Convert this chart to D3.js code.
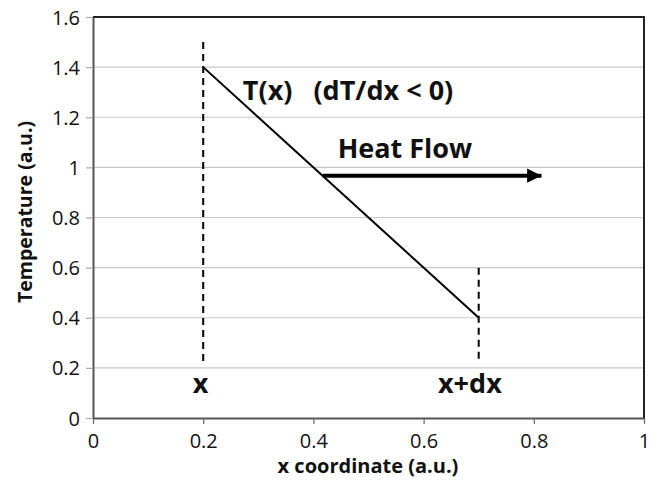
<!DOCTYPE html>
<html><head><meta charset="utf-8">
<script src="https://cdn.jsdelivr.net/npm/d3@7"></script>
<style>body{margin:0;background:#fff}svg{display:block}text{font-family:"Open Sans",sans-serif;white-space:pre}</style>
</head><body><svg id="c" width="657" height="480"></svg>
<script>
const xTicks = [0, 0.2, 0.4, 0.6, 0.8, 1];
const yTicks = [0, 0.2, 0.4, 0.6, 0.8, 1, 1.2, 1.4, 1.6];
const tempX = [0.2, 0.7];
const tempY = [1.4, 0.4];
const dashLeft = {x: 0.2, y0: 0.21, y1: 1.5};
const dashRight = {x: 0.7, y0: 0.22, y1: 0.6};
const heatFlow = {x0: 0.417, x1: 0.814, y: 0.967};
const labels = [
  {text: "T(x)   (dT/dx < 0)", x: 0.272, y: 1.269, anchor: "start"},
  {text: "Heat Flow", x: 0.444, y: 1.037, anchor: "start"},
  {text: "x", x: 0.195, y: 0.1, anchor: "middle"},
  {text: "x+dx", x: 0.684, y: 0.1, anchor: "middle"}
];
const xTitle = "x coordinate (a.u.)";
const yTitle = "Temperature (a.u.)";

const svg = d3.select("#c");
const L = 93, R = 644, T = 17, B = 418;
const x = d3.scaleLinear().domain([0, 1]).range([L, R]);
const y = d3.scaleLinear().domain([0, 1.6]).range([B, T]);

// gridlines
svg.append("g").selectAll("line").data(yTicks.filter(d => d > 0 && d < 1.6)).join("line")
  .attr("x1", L).attr("x2", R).attr("y1", d => y(d)).attr("y2", d => y(d))
  .attr("stroke", "#c8c8c8").attr("stroke-width", 1.2);

// axes
const xa = svg.append("g").attr("transform", `translate(0,${B})`)
  .call(d3.axisBottom(x).tickValues(xTicks).tickFormat(d3.format("")).tickSize(6).tickSizeOuter(0));
const ya = svg.append("g").attr("transform", `translate(${L},0)`)
  .call(d3.axisLeft(y).tickValues(yTicks).tickFormat(d3.format("")).tickSize(7).tickSizeOuter(0));
[xa, ya].forEach(a => {
  a.select(".domain").attr("stroke", "#555").attr("stroke-width", 2);
  a.selectAll(".tick line").attr("stroke", "#666").attr("stroke-width", 1.2);
  a.selectAll(".tick text").attr("fill", "#111").style("font-size", "20px").style("font-family", "'Open Sans', sans-serif");
});
xa.selectAll(".tick text").attr("dy", "0").attr("y", 30);
ya.selectAll(".tick text").attr("x", -13).attr("dy", "0.35em");
ya.selectAll(".tick line").attr("stroke", "#aaa");

// frame top & right
svg.append("path").attr("d", `M${L},${y(1.6)}H${R}V${B}`).attr("fill", "none")
  .attr("stroke", "#222").attr("stroke-width", 2);

// dashed lines
[dashLeft, dashRight].forEach(d => {
  svg.append("line").attr("x1", x(d.x)).attr("x2", x(d.x)).attr("y1", y(d.y1)).attr("y2", y(d.y0))
    .attr("stroke", "#000").attr("stroke-width", 2).attr("stroke-dasharray", "7,5");
});

// temperature line
svg.append("path").datum(tempX.map((v, i) => [v, tempY[i]]))
  .attr("d", d3.line().x(d => x(d[0])).y(d => y(d[1])))
  .attr("fill", "none").attr("stroke", "#000").attr("stroke-width", 2);

// heat flow arrow
svg.append("defs").append("marker").attr("id", "ah").attr("viewBox", "0 0 10 10")
  .attr("refX", 10).attr("refY", 5).attr("markerWidth", 3.6).attr("markerHeight", 3.6)
  .attr("markerUnits", "strokeWidth").attr("orient", "auto")
  .append("path").attr("d", "M0,0L10,5L0,10Z").attr("fill", "#000");
svg.append("line").attr("x1", x(heatFlow.x0)).attr("x2", x(heatFlow.x1))
  .attr("y1", y(heatFlow.y)).attr("y2", y(heatFlow.y))
  .attr("stroke", "#000").attr("stroke-width", 4).attr("marker-end", "url(#ah)");

// labels
svg.append("g").selectAll("text").data(labels).join("text")
  .attr("x", d => x(d.x)).attr("y", d => y(d.y)).attr("text-anchor", d => d.anchor)
  .attr("font-weight", "bold").style("font-size", "27px")
  .attr("fill", "#111").text(d => d.text);

// titles
svg.append("text").attr("x", 368).attr("y", 473).attr("text-anchor", "middle")
  .attr("font-weight", "bold").style("font-size", "20px").attr("fill", "#111").text(xTitle);
svg.append("text").attr("transform", `translate(32,212) rotate(-90)`).attr("text-anchor", "middle")
  .attr("font-weight", "bold").style("font-size", "19.5px").attr("fill", "#111").text(yTitle);
</script></body></html>
